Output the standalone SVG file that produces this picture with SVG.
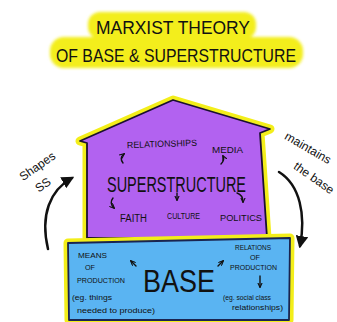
<svg xmlns="http://www.w3.org/2000/svg" width="337" height="322" viewBox="0 0 337 322">
<defs>
<filter id="soft" x="-10%" y="-30%" width="120%" height="160%"><feGaussianBlur stdDeviation="1.5"/></filter>
<marker id="ah" viewBox="0 0 10 10" refX="8" refY="5" markerWidth="5" markerHeight="5" orient="auto"><path d="M0,0 L10,5 L0,10 Z" fill="#111"/></marker>
<marker id="sm" viewBox="0 0 10 10" refX="8" refY="5" markerWidth="4" markerHeight="4" orient="auto"><path d="M0,1 L9,5 L0,9" fill="none" stroke="#111" stroke-width="2"/></marker>
</defs>
<style>
.t{font-family:"Liberation Sans",Arial,sans-serif;fill:#111;}
.hl{fill:#f3ee1a;}
.glow{fill:none;stroke:#f3ee1a;stroke-width:9;stroke-linejoin:round;}
.conn{fill:none;stroke:#111;stroke-width:2.5;stroke-linecap:round;}
.small{fill:none;stroke:#111;stroke-width:1.4;stroke-linecap:round;}
</style>
<rect width="337" height="322" fill="#fff"/>

<g id="title">
<g filter="url(#soft)">
<rect class="hl" x="88" y="12" width="168" height="27" rx="12"/>
<rect class="hl" x="50" y="37" width="253" height="31" rx="14"/>
</g>
<text class="t" x="96" y="34" font-size="18" textLength="154" lengthAdjust="spacingAndGlyphs">MARXIST THEORY</text>
<text class="t" x="56" y="62" font-size="18" textLength="240" lengthAdjust="spacingAndGlyphs">OF BASE &amp; SUPERSTRUCTURE</text>
</g>

<g id="superstructure">
<polygon class="glow" points="87,238 87,143 80,141 173,100 270,129 260,133 267,238"/>
<polygon points="87,238 87,143 80,141 173,100 270,129 260,133 267,238" fill="#b262f0" stroke="#1a1030" stroke-width="1.8" stroke-linejoin="round"/>
<text class="t" x="127" y="147" font-size="9" textLength="70" lengthAdjust="spacingAndGlyphs" transform="rotate(-2 160 145)">RELATIONSHIPS</text>
<text class="t" x="212" y="153" font-size="9" textLength="31" lengthAdjust="spacingAndGlyphs">MEDIA</text>
<text class="t" x="107" y="192" font-size="22" textLength="139" lengthAdjust="spacingAndGlyphs">SUPERSTRUCTURE</text>
<text class="t" x="120" y="222" font-size="10" textLength="27" lengthAdjust="spacingAndGlyphs">FAITH</text>
<text class="t" x="167" y="219" font-size="9" textLength="33" lengthAdjust="spacingAndGlyphs">CULTURE</text>
<text class="t" x="220" y="221" font-size="9" textLength="42" lengthAdjust="spacingAndGlyphs">POLITICS</text>
<path class="small" marker-end="url(#sm)" d="M123,163 Q119,158 124,154"/>
<path class="small" marker-end="url(#sm)" d="M221,164 Q225,160 223,156"/>
<path class="small" marker-end="url(#sm)" d="M113,198 Q109,203 114,208"/>
<path class="small" marker-end="url(#sm)" d="M177,193 L177,200"/>
<path class="small" marker-end="url(#sm)" d="M237,193 Q243,195 243,202"/>
</g>

<g id="base">
<polygon class="glow" points="68,243 290,238 289,320 69,320"/>
<polygon points="68,243 290,238 289,320 69,320" fill="#5ab4f2" stroke="#1a2450" stroke-width="1.8" stroke-linejoin="round"/>
<text class="t" x="143" y="292" font-size="31" textLength="72" lengthAdjust="spacingAndGlyphs">BASE</text>
<text class="t" x="78" y="258" font-size="8" textLength="29" lengthAdjust="spacingAndGlyphs">MEANS</text>
<text class="t" x="85" y="270" font-size="8" textLength="10" lengthAdjust="spacingAndGlyphs">OF</text>
<text class="t" x="77" y="283" font-size="8" textLength="48" lengthAdjust="spacingAndGlyphs">PRODUCTION</text>
<text class="t" x="72" y="300" font-size="7.5" textLength="40" lengthAdjust="spacingAndGlyphs">(eg. things</text>
<text class="t" x="77" y="313" font-size="7.5" textLength="78" lengthAdjust="spacingAndGlyphs">needed to produce)</text>
<text class="t" x="235" y="250" font-size="8" textLength="36" lengthAdjust="spacingAndGlyphs">RELATIONS</text>
<text class="t" x="250" y="260" font-size="8" textLength="10" lengthAdjust="spacingAndGlyphs">OF</text>
<text class="t" x="230" y="270" font-size="8" textLength="47" lengthAdjust="spacingAndGlyphs">PRODUCTION</text>
<text class="t" x="223" y="300" font-size="6.5" textLength="48" lengthAdjust="spacingAndGlyphs">(eg. social class</text>
<text class="t" x="232" y="310" font-size="6.5" textLength="51" lengthAdjust="spacingAndGlyphs">relationships)</text>
<path class="small" marker-end="url(#sm)" d="M136,266 L131,261"/>
<path class="small" marker-end="url(#sm)" d="M218,266 L223,261"/>
<path class="small" marker-end="url(#sm)" d="M260,276 L260,287"/>
</g>

<g id="shapes-label">
<text class="t" x="38" y="170" font-size="12" text-anchor="middle" transform="rotate(-35 38 167)">Shapes</text>
<text class="t" x="43" y="189" font-size="12" text-anchor="middle" transform="rotate(-35 43 185)">SS</text>
</g>

<g id="maintains-label">
<text class="t" x="308" y="152" font-size="12" text-anchor="middle" transform="rotate(30 308 148)">maintains</text>
<text class="t" x="314" y="182" font-size="12" text-anchor="middle" transform="rotate(35 314 178)">the base</text>
</g>

<g id="connectors">
<path class="conn" marker-end="url(#ah)" d="M48,249 C40,215 50,190 72,178"/>
<path class="conn" marker-end="url(#ah)" d="M279,172 C300,185 306,215 300,246"/>
</g>
</svg>
